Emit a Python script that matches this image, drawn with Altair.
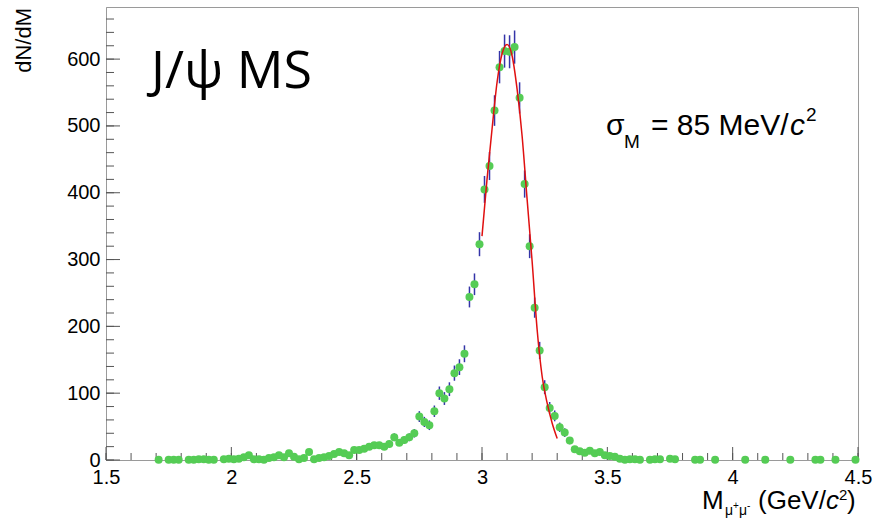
import altair as alt
import pandas as pd

# ---------------- data ----------------
mass = [1.71, 1.75, 1.77, 1.79, 1.83, 1.85, 1.87, 1.89, 1.91, 1.93,
        1.97, 1.99, 2.01, 2.03, 2.05, 2.07, 2.09, 2.11, 2.13, 2.15,
        2.17, 2.19, 2.21, 2.23, 2.25, 2.27, 2.29, 2.31, 2.33, 2.35,
        2.37, 2.39, 2.41, 2.43, 2.45, 2.47, 2.49, 2.51, 2.53, 2.55,
        2.57, 2.59, 2.61, 2.63, 2.65, 2.67, 2.69, 2.71, 2.73, 2.75,
        2.77, 2.79, 2.81, 2.83, 2.85, 2.87, 2.89, 2.91, 2.93, 2.95,
        2.97, 2.99, 3.01, 3.03, 3.05, 3.07, 3.09, 3.11, 3.13, 3.15,
        3.17, 3.19, 3.21, 3.23, 3.25, 3.27, 3.29, 3.31, 3.33, 3.35,
        3.37, 3.39, 3.41, 3.43, 3.45, 3.47, 3.49, 3.51, 3.53, 3.55,
        3.57, 3.59, 3.61, 3.63, 3.67, 3.69, 3.71, 3.75, 3.77, 3.85,
        3.87, 3.93, 4.05, 4.13, 4.23, 4.33, 4.35, 4.41, 4.49]
counts = [0.5, 0.5, 0.5, 0.5, 0.5, 0.5, 1, 1, 0.5, 0.5,
          1, 2, 1, 2, 4, 7, 1, 1, 0.5, 3,
          4, 7, 4, 10, 5, 1, 3, 12, 1, 3,
          4, 6, 9, 12, 10, 7, 15, 15, 17, 20,
          22, 22, 20, 24, 34, 26, 30, 34, 40, 65,
          57, 52, 73, 100, 92, 106, 130, 139, 159, 244,
          263, 323, 405, 440, 523, 588, 612, 611, 618, 542,
          413, 320, 228, 164, 109, 78, 66, 49, 41, 29,
          16, 13, 11, 14, 10, 12, 7, 6, 5, 2,
          0.5, 1, 1, 0.5, 0.5, 1, 1, 2, 1, 0.5,
          0.5, 0.5, 0.5, 0.5, 0.5, 0.5, 0.5, 0.5, 0.5]

fit_mass = [3.00, 3.02, 3.04, 3.06, 3.08, 3.10, 3.12, 3.14, 3.16, 3.18,
            3.20, 3.22, 3.24, 3.26, 3.28, 3.30]
fit_counts = [335, 420, 495, 565, 608, 622, 605, 555, 485, 390,
              297, 195, 125, 85, 55, 32]

x_major = [1.5, 2.0, 2.5, 3.0, 3.5, 4.0, 4.5]
x_minor = [round(1.5 + 0.1 * i, 1) for i in range(31)]
y_major = [0, 100, 200, 300, 400, 500, 600]
y_minor = [20 * i for i in range(34)]

# ---------------- layout ----------------
L, T = 106, 7
W, H = 752, 453
FONT = "Liberation Sans"

xs = alt.Scale(domain=[1.5, 4.5], nice=False, zero=False)
ys = alt.Scale(domain=[0, 678], nice=False, zero=True)

xaxis = alt.Axis(values=x_major, format="~g", title=None, grid=False,
                 ticks=False, tickSize=0, labelFontSize=20, labelFont=FONT,
                 labelColor="black", labelPadding=7, labelFlush=False,
                 labelOverlap=False, domainColor="#9a9a9a")
yaxis = alt.Axis(values=y_major, title=None, grid=False, ticks=False,
                 tickSize=0, labelFontSize=20, labelFont=FONT,
                 labelColor="black", labelPadding=6, labelOverlap=False,
                 labelFlush=False, domainColor="#9a9a9a")

pts = pd.DataFrame({"m": mass, "n": counts})
fit = pd.DataFrame({"m": fit_mass, "n": fit_counts})

X = alt.X("m:Q", scale=xs, axis=xaxis)
Y = alt.Y("n:Q", scale=ys, axis=yaxis)

bars = alt.Chart(pts).transform_calculate(
    lo="max(0, datum.n - sqrt(datum.n))",
    hi="datum.n + sqrt(datum.n)",
).mark_rule(color="#3434a8", strokeWidth=1.5, clip=False).encode(
    x=X, y=alt.Y("lo:Q", scale=ys, axis=yaxis), y2="hi:Q")

points = alt.Chart(pts).mark_circle(
    size=64, color="#55cc55", opacity=1, clip=False).encode(x=X, y=Y)

line = alt.Chart(fit).mark_line(
    color="#e01010", strokeWidth=1.5, interpolate="monotone").encode(x=X, y=Y)

xt_min = alt.Chart(pd.DataFrame({"m": x_minor})).mark_rule(
    color="#555555", strokeWidth=1).encode(x=X, y=alt.value(H), y2=alt.value(H - 7))
xt_maj = alt.Chart(pd.DataFrame({"m": x_major})).mark_rule(
    color="#555555", strokeWidth=1).encode(x=X, y=alt.value(H), y2=alt.value(H - 13))
yt_min = alt.Chart(pd.DataFrame({"n": y_minor})).mark_rule(
    color="#555555", strokeWidth=1).encode(y=Y, x=alt.value(0), x2=alt.value(8))
yt_maj = alt.Chart(pd.DataFrame({"n": y_major})).mark_rule(
    color="#555555", strokeWidth=1).encode(y=Y, x=alt.value(0), x2=alt.value(14))


def txt(s, x, y, size, font=FONT, align="left", **kw):
    return alt.Chart(pd.DataFrame({"s": [s]})).mark_text(
        align=align, baseline="alphabetic", fontSize=size, font=font,
        color="black", **kw).encode(
        x=alt.value(x - L), y=alt.value(y - T), text="s:N")


texts = [
    txt("J/ψ MS", 151, 88, 52, font="Open Sans"),
    # sigma annotation
    txt("σ", 606, 135, 30),
    txt("M", 624, 148, 19),
    txt("= 85 MeV/", 651, 135, 30),
    txt("c", 790, 135, 30, fontStyle="italic"),
    txt("2", 806, 121, 19),
    # x title
    txt("M", 702, 509, 26),
    txt("μ", 725, 515, 14),
    txt("+", 733, 509, 10),
    txt("μ", 739, 515, 14),
    txt("-", 747, 509, 10),
    txt("(GeV/", 758, 509, 26),
    txt("c", 826, 509, 26, fontStyle="italic"),
    txt("2", 839, 500, 15),
    txt(")", 847, 509, 26),
    # y title
    alt.Chart(pd.DataFrame({"s": ["dN/dM"]})).mark_text(
        align="right", baseline="middle", angle=270, fontSize=22,
        font=FONT, color="black").encode(
        x=alt.value(24 - L), y=alt.value(8 - T), text="s:N"),
]

chart = alt.layer(
    xt_min, xt_maj, yt_min, yt_maj, bars, points, line, *texts
).properties(
    width=W, height=H,
    autosize=alt.AutoSizeParams(type="none"),
    padding={"left": L, "top": T, "right": 873 - L - W, "bottom": 522 - T - H},
    background="white",
).configure_view(stroke="#9a9a9a", strokeWidth=1)

chart.save("out.html", embed_options={"renderer": "svg", "actions": False})
